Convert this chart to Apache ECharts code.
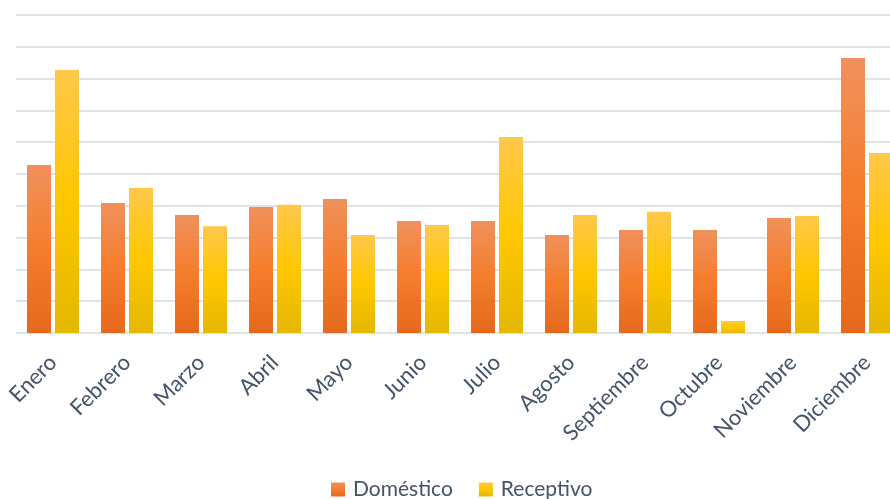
<!DOCTYPE html>
<html>
<head>
<meta charset="utf-8">
<script src="https://cdn.jsdelivr.net/npm/echarts@6/dist/echarts.min.js"></script>
<style>html,body{margin:0;padding:0;background:#fff;}#c{width:890px;height:499px;}</style>
</head>
<body>
<div id="c"></div>
<script>
const months = ['Enero','Febrero','Marzo','Abril','Mayo','Junio','Julio','Agosto','Septiembre','Octubre','Noviembre','Diciembre'];
const seriesNames = ['Doméstico','Receptivo'];
const domestico = [5.28, 4.09, 3.71, 3.96, 4.21, 3.52, 3.52, 3.08, 3.24, 3.24, 3.62, 8.65];
const receptivo = [8.27, 4.56, 3.36, 4.03, 3.08, 3.40, 6.16, 3.71, 3.81, 0.38, 3.68, 5.66];

function grad(c0, c1, c2) {
  return new echarts.graphic.LinearGradient(0, 0, 0, 1, [
    {offset: 0, color: c0}, {offset: 0.5, color: c1}, {offset: 1, color: c2}
  ]);
}
const font = 'Lato, "Open Sans", sans-serif';
const chart = echarts.init(document.getElementById('c'), null, {renderer: 'canvas'});
chart.setOption({
  animation: false,
  backgroundColor: '#ffffff',
  grid: {left: 16, top: 15, width: 888, height: 318, containLabel: false, outerBoundsMode: 'none'},
  legend: {
    data: seriesNames,
    top: 474,
    left: 326,
    icon: 'rect',
    itemWidth: 14, itemHeight: 14,
    itemGap: 26,
    textStyle: {fontFamily: font, fontSize: 21, color: '#44546A', padding: [0, 0, 0, 3]}
  },
  xAxis: {
    type: 'category',
    data: months,
    axisLine: {show: false},
    axisTick: {show: false},
    axisLabel: {rotate: 45, interval: 0, margin: 26, fontFamily: font, fontSize: 22, color: '#44546A'}
  },
  yAxis: {
    type: 'value', min: 0, max: 10, interval: 1,
    axisLabel: {show: false}, axisLine: {show: false}, axisTick: {show: false},
    splitLine: {lineStyle: {color: '#E0E3E8', width: 2}}
  },
  series: [
    {name: seriesNames[0], type: 'bar', data: domestico, barWidth: 24, barGap: '16.7%',
     itemStyle: {color: grad('#F0915C', '#F57D2C', '#E5691C')}},
    {name: seriesNames[1], type: 'bar', data: receptivo, barWidth: 24, barGap: '16.7%',
     itemStyle: {color: grad('#FFC84A', '#FFC700', '#E4B700')}}
  ]
});
</script>
</body>
</html>
